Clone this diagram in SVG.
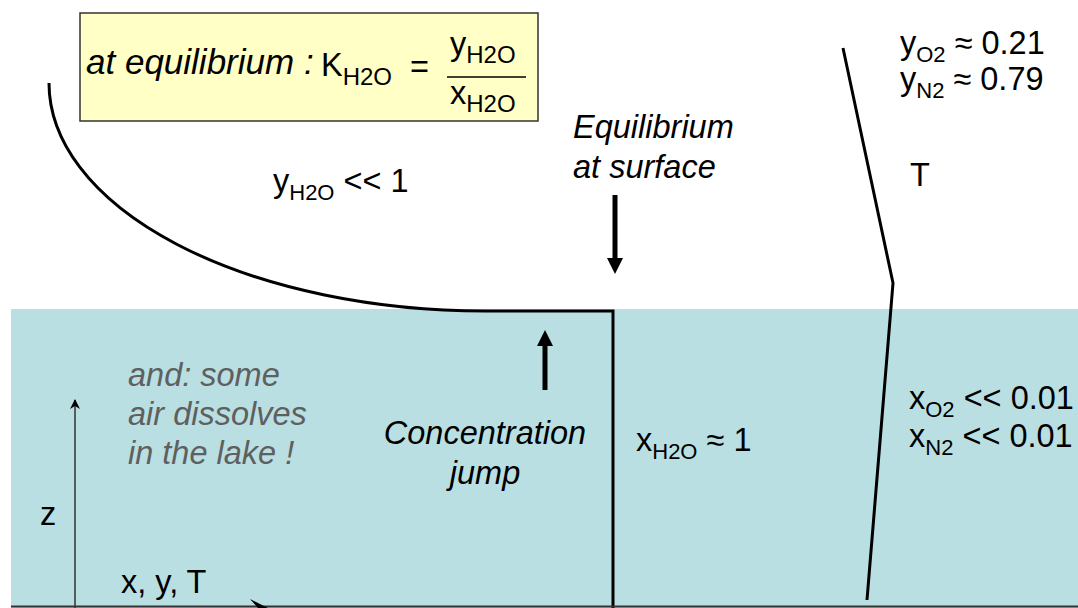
<svg xmlns="http://www.w3.org/2000/svg" width="1078" height="608" viewBox="0 0 1078 608">
<style>
text{font-family:"Liberation Sans",Arial,sans-serif;font-size:32.5px;fill:#000}
.it{font-style:italic}
.gray{fill:#5f5f5f}
.sub{font-size:22px}
.curve{fill:none;stroke:#000;stroke-width:3}
.axis{stroke:#333;stroke-width:1.5;fill:none}
</style>
<defs>
<marker id="ah" markerWidth="10" markerHeight="10" refX="9" refY="5" orient="auto" markerUnits="userSpaceOnUse" viewBox="0 0 10 10">
<path d="M0,0 L10,5 L0,10 L3,5 Z" fill="#000"/>
</marker>
</defs>
<rect id="lake" x="11" y="309" width="1067" height="299" fill="#b9dfe2"/>
<g id="connectors">
<path class="curve" d="M49,83 A436,228 0 0 0 485,311 L613,311 L613,608"/>
<polyline class="curve" points="843,48 893,283 867,600"/>
<line class="axis" x1="75" y1="608" x2="75" y2="400" marker-end="url(#ah)"/>
<line x1="11" y1="606.5" x2="1078" y2="606.5" stroke="#333" stroke-width="2"/>
<path d="M250,599 L268,608 L258,608 Z" fill="#000"/>
<line x1="615" y1="195" x2="615" y2="260" stroke="#000" stroke-width="5"/>
<path d="M607,258 L623,258 L615,274 Z" fill="#000"/>
<line x1="545" y1="345" x2="545" y2="390" stroke="#000" stroke-width="5"/>
<path d="M537,346 L553,346 L545,330 Z" fill="#000"/>
</g>
<g id="equation">
<rect x="80" y="13" width="458" height="108" fill="#ffffc6" stroke="#333" stroke-width="1.5"/>
<text class="it" x="86" y="74" style="font-size:35px">at equilibrium :</text>
<text x="321" y="76">K<tspan class="sub" dy="9" style="font-size:24px">H2O</tspan></text>
<text x="410" y="78">=</text>
<line x1="447" y1="77" x2="526" y2="77" stroke="#000" stroke-width="1.5"/>
<text x="450" y="55">y<tspan class="sub" dy="8" style="font-size:24px">H2O</tspan></text>
<text x="450" y="104">x<tspan class="sub" dy="8" style="font-size:24px">H2O</tspan></text>
</g>
<g id="air-label">
<text x="273" y="192">y<tspan class="sub" dy="8">H2O</tspan><tspan dy="-8"> &lt;&lt; 1</tspan></text>
</g>
<g id="equilibrium-label">
<text class="it" x="573" y="138">Equilibrium</text>
<text class="it" x="573" y="178">at surface</text>
</g>
<g id="air-composition">
<text x="900" y="54">y<tspan class="sub" dy="8">O2</tspan><tspan dy="-8"> ≈ 0.21</tspan></text>
<text x="900" y="90">y<tspan class="sub" dy="8">N2</tspan><tspan dy="-8"> ≈ 0.79</tspan></text>
</g>
<g id="T-label"><text x="910" y="186">T</text></g>
<g id="dissolve-note">
<text class="it gray" x="128" y="386">and: some</text>
<text class="it gray" x="128" y="425">air dissolves</text>
<text class="it gray" x="128" y="464">in the lake !</text>
</g>
<g id="jump-label">
<text class="it" x="485" y="444" text-anchor="middle">Concentration</text>
<text class="it" x="485" y="484" text-anchor="middle">jump</text>
</g>
<g id="water-label">
<text x="636" y="451">x<tspan class="sub" dy="8">H2O</tspan><tspan dy="-8"> ≈ 1</tspan></text>
</g>
<g id="water-composition">
<text x="909" y="409">x<tspan class="sub" dy="8">O2</tspan><tspan dy="-8"> &lt;&lt; 0.01</tspan></text>
<text x="909" y="447">x<tspan class="sub" dy="8">N2</tspan><tspan dy="-8"> &lt;&lt; 0.01</tspan></text>
</g>
<g id="axes-labels">
<text x="40" y="525">z</text>
<text x="121" y="593">x, y, T</text>
</g>
</svg>
